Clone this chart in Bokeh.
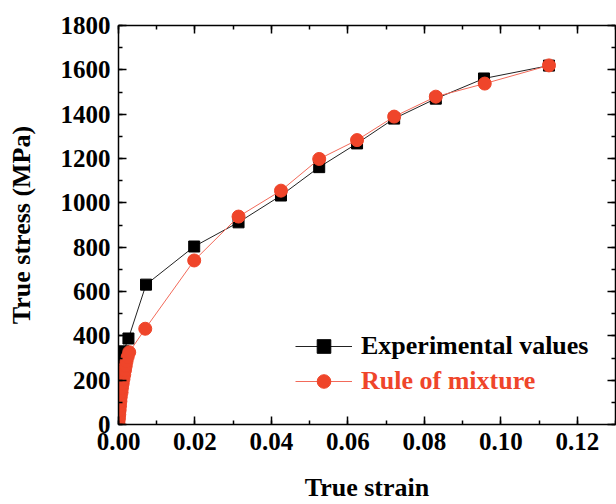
from bokeh.plotting import figure
from bokeh.models import (Range1d, LinearAxis, SingleIntervalTicker, NumeralTickFormatter,
                          Legend, LegendItem)
from bokeh.embed import file_html
from bokeh.resources import INLINE

# Experimental values (true strain, true stress MPa)
exp_strain = [0.0000, 0.0001, 0.0002, 0.0003, 0.0004, 0.0005, 0.0006, 0.0007, 0.0008,
              0.0009, 0.0010, 0.0011, 0.0012, 0.0013, 0.0026, 0.0072, 0.0198, 0.0314,
              0.0425, 0.0525, 0.0624, 0.0721, 0.0830, 0.0956, 0.1126]
exp_stress = [0, 25, 50, 75, 100, 125, 150, 175, 200, 225, 250, 275, 300, 330, 388,
              631, 803, 912, 1033, 1161, 1268, 1380, 1470, 1561, 1619]

# Rule of mixture
rom_strain = [0.0000, 0.0001, 0.0002, 0.0003, 0.0004, 0.0005, 0.0006, 0.0008, 0.0009,
              0.0011, 0.0013, 0.0015, 0.0017, 0.0019, 0.0021, 0.0024, 0.0028, 0.0070,
              0.0198, 0.0314, 0.0425, 0.0525, 0.0624, 0.0721, 0.0830, 0.0958, 0.1126]
rom_stress = [5, 25, 45, 65, 85, 105, 125, 145, 165, 185, 205, 225, 245, 265, 285, 305,
              326, 432, 740, 938, 1055, 1198, 1283, 1389, 1479, 1538, 1620]

x_title = "True strain"
y_title = "True stress (MPa)"

FONT = "Liberation Serif"
RED = "#EF452A"

p = figure(width=616, height=504, output_backend="svg", toolbar_location=None,
           x_range=Range1d(0, 0.13), y_range=Range1d(0, 1800),
           min_border_left=118, min_border_right=1, min_border_top=25, min_border_bottom=80)
p.grid.visible = False
p.outline_line_color = None
p.background_fill_color = "white"
p.border_fill_color = "white"

def style(ax, labels=True):
    ax.axis_line_width = 1.5
    ax.axis_line_color = "black"
    ax.major_tick_in = 8
    ax.major_tick_out = 0
    ax.minor_tick_in = 4
    ax.minor_tick_out = 0
    ax.major_tick_line_width = 1.5
    ax.minor_tick_line_width = 1.5
    ax.major_tick_line_color = "black"
    ax.minor_tick_line_color = "black"
    if labels:
        ax.major_label_text_font = FONT
        ax.major_label_text_font_style = "bold"
        ax.major_label_text_font_size = "25px"
        ax.major_label_text_color = "black"
        ax.major_label_standoff = 8
        ax.axis_label_text_font = FONT
        ax.axis_label_text_font_style = "bold"
        ax.axis_label_text_font_size = "26px"
        ax.axis_label_text_color = "black"
    else:
        ax.major_label_text_font_size = "1px"
        ax.major_label_text_color = None
        ax.major_label_standoff = 0
        ax.axis_label = None

xa = p.xaxis[0]
xa.ticker = SingleIntervalTicker(interval=0.02, num_minor_ticks=2)
xa.formatter = NumeralTickFormatter(format="0.00")
xa.axis_label = x_title
style(xa)
xa.axis_label_standoff = 20

ya = p.yaxis[0]
ya.ticker = SingleIntervalTicker(interval=200, num_minor_ticks=2)
ya.formatter = NumeralTickFormatter(format="0")
ya.axis_label = y_title
style(ya)
ya.axis_label_standoff = 22

top = LinearAxis(ticker=SingleIntervalTicker(interval=0.02, num_minor_ticks=2))
style(top, labels=False)
p.add_layout(top, "above")
right = LinearAxis(ticker=SingleIntervalTicker(interval=200, num_minor_ticks=2))
style(right, labels=False)
p.add_layout(right, "right")

l1 = p.line(exp_strain, exp_stress, line_color="#222222", line_width=1)
s1 = p.scatter(exp_strain, exp_stress, marker="square", size=11, fill_color="black",
               line_color="black")
l2 = p.line(rom_strain, rom_stress, line_color="#F26A5A", line_width=1)
s2 = p.scatter(rom_strain, rom_stress, marker="circle", size=13, fill_color=RED,
               line_color=RED)

def mk_legend(label, rends, color, y):
    lg = Legend(items=[LegendItem(label=label, renderers=rends)],
                location=(177, y), padding=0, margin=0, spacing=0,
                border_line_color=None, background_fill_alpha=0,
                glyph_width=57, glyph_height=34, label_standoff=9,
                label_text_font=FONT, label_text_font_style="bold",
                label_text_font_size="26px", label_text_color=color,
                label_height=34)
    p.add_layout(lg, "center")

mk_legend("Experimental values", [l1, s1], "black", 61)
mk_legend("Rule of mixture", [l2, s2], RED, 26)

open("out.html", "w").write(file_html(p, INLINE))
